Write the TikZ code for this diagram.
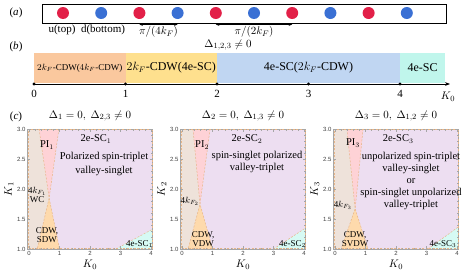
\documentclass[tikz,border=0pt]{standalone}
\usepackage{amsmath,amssymb}
\usepackage{fontspec}
\setmainfont{Liberation Serif}
\setsansfont{Liberation Sans}
\usepackage{tikz}
\usetikzlibrary{arrows.meta,positioning}
\definecolor{dotred}{RGB}{226,32,72}
\definecolor{dotblue}{RGB}{58,112,212}
\definecolor{bandorange}{RGB}{250,200,158}
\definecolor{bandyellow}{RGB}{254,224,142}
\definecolor{bandblue}{RGB}{192,214,242}
\definecolor{bandcyan}{RGB}{192,246,236}
\definecolor{regbeige}{RGB}{238,226,218}
\definecolor{regpink}{RGB}{254,210,214}
\definecolor{reglilac}{RGB}{237,222,241}
\definecolor{regorange}{RGB}{254,218,172}
\definecolor{regcyan}{RGB}{214,250,244}
\definecolor{edgeorange}{RGB}{232,182,136}

\tikzset{
  dot/.style={circle, minimum size=12pt, inner sep=0pt},
  band/.style={minimum height=30pt, inner sep=0pt},
  gap/.style={{Stealth[length=3.5pt]}-{Stealth[length=3.5pt]}, thin},
  edge/.style={draw=edgeorange, dash pattern=on 2pt off 1.5pt, line width=0.5pt},
  frame/.style={draw=black!35, line width=0.4pt},
  ticklab/.style={font=\fontsize{6}{7}\sffamily, text=black!75, inner sep=1pt},
  plottext/.style={font=\fontsize{10.5}{12}\selectfont, inner sep=0pt},
  smalltext/.style={font=\fontsize{9}{10}\selectfont, inner sep=0pt, align=center}
}

\begin{document}
\begin{tikzpicture}[x=1pt, y=-1pt, font=\fontsize{11}{13}\selectfont]
  \useasboundingbox (0,0) rectangle (463,276);

  % (a) chain of sites
  \node (la) at (16,13) {(\textit{a})};
  \node[draw, line width=0.8pt, minimum width=404pt, minimum height=19pt, inner sep=0pt] (chain) at (244,13.5) {};
  \foreach \n/\c in {0/dotred,1/dotblue,2/dotred,3/dotblue,4/dotred,5/dotblue,6/dotred,7/dotblue,8/dotred,9/dotblue}
    \node[dot, fill=\c] (d\n) at ({63+38.2*\n},13) {};
  \node (utop) at (62,30) {u(top)};
  \node (dbot) at (103,30) {d(bottom)};
  \draw[gap] ([yshift=-11.5pt]d2.center) -- node[below, inner sep=2pt] (gapq) {$\pi/(4k_F)$} ([yshift=-11.5pt]d3.center);
  \draw[gap] ([yshift=-11.5pt]d4.center) -- node[below, inner sep=2pt] (gaph) {$\pi/(2k_F)$} ([yshift=-11.5pt]d6.center);

  % (b) K0 line
  \node (lb) at (16,47) {(\textit{b})};
  \node (alld) at (228,45) {$\Delta_{1,2,3}\neq 0$};
  \node[band, fill=bandorange, minimum width=91.5pt] (b1) at (79.75,68) {\raisebox{-2pt}{\fontsize{9}{10}\selectfont $2k_F$-CDW($4k_F$-CDW)}};
  \node[band, fill=bandyellow, minimum width=91.5pt] (b2) at (171.25,68) {\raisebox{-2pt}{\fontsize{12}{14}\selectfont $2k_F$-CDW(4e-SC)}};
  \node[band, fill=bandblue, minimum width=183pt] (b3) at (308.5,68) {\raisebox{-2pt}{\fontsize{12}{14}\selectfont 4e-SC($2k_F$-CDW)}};
  \node[band, fill=bandcyan, minimum width=45pt] (b4) at (422.5,68) {\raisebox{-2pt}{\fontsize{12}{14}\selectfont 4e-SC}};
  \coordinate (kstart) at (34,84);
  \coordinate (kend) at (450,84);
  \draw[thick, -{Stealth[length=5pt]}] (kstart) -- (kend);
  \foreach \t in {0,...,4} {
    \fill ({34+91.5*\t},84) circle (1.7);
    \node (kt\t) at ({34+91.5*\t},94) {\t};
  }
  \node (k0lab) at (448,97) {$K_0$};

  % (c) phase diagrams
  \node (lc) at (16,117) {(\textit{c})};
  \foreach \i/\xo/\rest/\pl/\pr/\cx/\cy/\ol/\orr/\cs/\ch in
      {1/29/{2,3}/0.33/0.98/0.66/0.85/0.27/1.0/2.85/0.33,
       2/182/{1,3}/0.36/0.92/0.59/0.75/0.2/1.0/3.0/0.35,
       3/335/{1,2}/0.39/0.92/0.66/0.67/0.2/1.08/3.05/0.37}
  {
    \begin{scope}[shift={(\xo pt,-249pt)}, x=30.5pt, y=60pt]
      \fill[reglilac] (-0.06,0) rectangle (4.05,2);
      \fill[regbeige] (-0.06,0) -- (\ol,0) -- (\cx,\cy) -- (\pl,2) -- (-0.06,2) -- cycle;
      \fill[regpink] (\pl,2) -- (\pr,2) -- (\cx,\cy) -- cycle;
      \fill[regorange] (\ol,0) -- (\orr,0) -- (\cx,\cy) -- cycle;
      \fill[regcyan] (\cs,0) -- (4.05,0) -- (4.05,\ch) -- cycle;
      \draw[edge] (\pl,2) -- (\cx,\cy) -- (\orr,0);
      \draw[edge] (\pr,2) -- (\cx,\cy) -- (\ol,0);
      \draw[edge] (\cs,0) -- (4.05,\ch);
      \draw[frame] (-0.06,0) rectangle (4.05,2);
      \draw[edge] (-0.04,0.01) rectangle (4.03,1.99);
      % ticks
      \foreach \t in {0,0.2,...,4.01} {
        \draw[frame, line width=0.3pt] (\t,0) -- (\t,0.025);
        \draw[frame, line width=0.3pt] (\t,2) -- (\t,1.975);
      }
      \foreach \t in {0,...,4} {
        \draw[frame] (\t,0) -- (\t,0.05);
        \draw[frame] (\t,2) -- (\t,1.95);
        \node[ticklab, below] (xt\i\t) at (\t,-0.02) {\t};
      }
      \foreach \v in {0,0.1,...,2.01} {
        \draw[frame, line width=0.3pt] (-0.06,\v) -- (-0.02,\v);
        \draw[frame, line width=0.3pt] (4.05,\v) -- (4.01,\v);
      }
      \foreach \v/\lab [count=\n] in {0/1.0,0.5/1.5,1/2.0,1.5/2.5,2/3.0} {
        \draw[frame] (-0.06,\v) -- (0.02,\v);
        \draw[frame] (4.05,\v) -- (3.97,\v);
        \node[ticklab, left] (yt\i\n) at (-0.08,\v) {\lab};
      }
      \node (xlab\i) at (2,-0.26) {$K_0$};
      \node[rotate=90] (ylab\i) at (-0.66,1) {$K_\i$};
      \node (title\i) at (2,2.22) {$\Delta_\i=0,\ \Delta_{\rest}\neq 0$};
    \end{scope}
  }

  % region labels
  \begin{scope}[shift={(29pt,-249pt)}, x=30.5pt, y=60pt]
    \node[plottext] (pi1) at (0.59,1.73) {PI$_1$};
    \node[plottext] (sc1) at (2.2,1.83) {2e-SC$_1$};
    \node[plottext] (pol1) at (2.46,1.53) {Polarized spin-triplet};
    \node[plottext] (val1) at (2.46,1.3) {valley-singlet};
    \node[smalltext] (wc1) at (0.27,0.9) {4$k_{F_1}$\\[-1pt]WC};
    \node[smalltext] (cdw1) at (0.59,0.23) {CDW,\\[-1pt]SDW};
    \node[smalltext] (fe1) at (3.62,0.09) {4e-SC$_1$};
  \end{scope}
  \begin{scope}[shift={(182pt,-249pt)}, x=30.5pt, y=60pt]
    \node[plottext] (pi2) at (0.66,1.73) {PI$_2$};
    \node[plottext] (sc2) at (2.13,1.83) {2e-SC$_2$};
    \node[plottext] (pol2) at (2.46,1.55) {spin-singlet polarized};
    \node[plottext] (val2) at (2.46,1.35) {valley-triplet};
    \node[smalltext] (wc2) at (0.26,0.8) {4$k_{F_2}$};
    \node[smalltext] (cdw2) at (0.69,0.17) {CDW,\\[-1pt]VDW};
    \node[smalltext] (fe2) at (3.62,0.08) {4e-SC$_2$};
  \end{scope}
  \begin{scope}[shift={(335pt,-249pt)}, x=30.5pt, y=60pt]
    \node[plottext] (pi3) at (0.59,1.77) {PI$_3$};
    \node[plottext] (sc3) at (2.07,1.83) {2e-SC$_3$};
    \node[plottext, align=center] (pol3) at (2.49,1.13) {unpolarized spin-triplet\\valley-singlet\\or\\spin-singlet unpolarized\\valley-triplet};
    \node[smalltext] (wc3) at (0.26,0.73) {4$k_{F_3}$};
    \node[smalltext] (cdw3) at (0.66,0.17) {CDW,\\[-1pt]SVDW};
    \node[smalltext] (fe3) at (3.54,0.09) {4e-SC$_3$};
  \end{scope}
\end{tikzpicture}
\end{document}
